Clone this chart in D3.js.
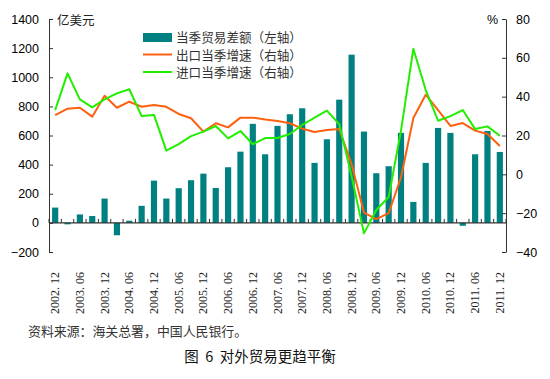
<!DOCTYPE html>
<html><head><meta charset="utf-8">
<script src="https://cdn.jsdelivr.net/npm/d3@7/dist/d3.min.js"></script>
<style>
body{margin:0;background:#fff;}
svg{display:block;}
</style></head>
<body>
<svg id="chart" width="550" height="379"></svg>
<script>
const quarters = ["2002.12","2003.03","2003.06","2003.09","2003.12","2004.03","2004.06","2004.09","2004.12",
"2005.03","2005.06","2005.09","2005.12","2006.03","2006.06","2006.09","2006.12","2007.03","2007.06","2007.09",
"2007.12","2008.03","2008.06","2008.09","2008.12","2009.03","2009.06","2009.09","2009.12","2010.03","2010.06",
"2010.09","2010.12","2011.03","2011.06","2011.09","2011.12"];
const tradeBalance = [105,-10,58,47,167,-85,15,117,290,167,238,293,338,240,382,489,680,471,666,746,787,412,574,846,1155,627,341,389,618,144,412,652,618,-20,471,631,487];
const exportGrowth = [30.5,33.8,34.3,29.7,40.5,34.3,37.4,34.8,35.7,34.8,31.1,28.9,22,26.3,24.2,29.2,29.2,28.2,27.5,26.3,23.5,21.8,22.8,23.3,5.2,-19.7,-23.1,-20,-1.5,29,41,33.1,24.9,26.4,22.5,20.8,14.6];
const importGrowth = [33.1,52,38.6,34.5,38.6,41.7,43.8,30,30.6,12.2,15.6,19.7,22,24.9,18.5,22.3,15.5,18.7,18.7,20.8,25.4,29.2,32.8,25.8,-1,-30.4,-18.4,-11.7,22.5,64.7,43.4,27.6,30,33.1,23.3,24.7,19.9];
const leftTicks = [-200,0,200,400,600,800,1000,1200,1400];
const rightTicks = [-40,-20,0,20,40,60,80];
const legendLabels = ["当季贸易差额（左轴）","出口当季增速（右轴）","进口当季增速（右轴）"];
const leftUnit = "亿美元", rightUnit = "%";
const sourceText = "资料来源：海关总署，中国人民银行。";
const titleText = "图 6 对外贸易更趋平衡";

const svg = d3.select("#chart");
const L = 49, R = 506, T = 19, B = 252;
const cjk = "'Noto Sans CJK SC', sans-serif";
const num = "'Liberation Sans', Arial, sans-serif";
const teal = "#008080", orange = "#FF6010", green = "#22EE00", axisCol = "#333";

const x = d3.scaleBand().domain(quarters).range([L, R]).paddingInner(0.5).paddingOuter(0.25);
const yL = d3.scaleLinear().domain([-200, 1400]).range([B, T]);
const yR = d3.scaleLinear().domain([-40, 80]).range([B, T]);
const cx = q => x(q) + x.bandwidth() / 2;

// bars
svg.append("g").selectAll("rect").data(quarters).join("rect")
  .attr("x", q => x(q))
  .attr("width", x.bandwidth())
  .attr("y", (q, i) => yL(Math.max(0, tradeBalance[i])))
  .attr("height", (q, i) => Math.abs(yL(tradeBalance[i]) - yL(0)))
  .attr("fill", teal);

// bottom axis at zero with inward ticks at band boundaries
const xb = d3.scaleLinear().domain([0, quarters.length]).range([L, R]);
const bounds = d3.range(0, quarters.length + 1);
const gx = svg.append("g").attr("transform", `translate(0,${yL(0)})`);
gx.append("line").attr("x1", L).attr("x2", R).attr("stroke", axisCol).attr("stroke-width", 1.2);
gx.selectAll("line.tk").data(bounds).join("line").attr("class", "tk")
  .attr("x1", d => xb(d)).attr("x2", d => xb(d)).attr("y1", 0).attr("y2", -4)
  .attr("stroke", axisCol).attr("stroke-width", 1);

// left axis
const gl = svg.append("g").attr("transform", `translate(${L},0)`)
  .call(d3.axisLeft(yL).tickValues(leftTicks).tickFormat(d3.format("d")).tickSize(-4).tickPadding(10).tickSizeOuter(0));
gl.select(".domain").attr("stroke", axisCol);
gl.selectAll(".tick line").attr("stroke", axisCol);
gl.selectAll("text").attr("font-family", num).attr("font-size", "12.5px").attr("fill", "#000");

// right axis
const gr = svg.append("g").attr("transform", `translate(${R},0)`)
  .call(d3.axisRight(yR).tickValues(rightTicks).tickFormat(d3.format("d")).tickSize(-4).tickPadding(10).tickSizeOuter(0));
gr.select(".domain").attr("stroke", axisCol);
gr.selectAll(".tick line").attr("stroke", axisCol);
gr.selectAll("text").attr("font-family", num).attr("font-size", "12.5px").attr("fill", "#000");

// lines
const line = d3.line().x(d => cx(d.q)).y(d => yR(d.v));
svg.append("path").datum(quarters.map((q, i) => ({q, v: exportGrowth[i]})))
  .attr("d", line).attr("fill", "none").attr("stroke", orange).attr("stroke-width", 2).attr("stroke-linejoin", "round");
svg.append("path").datum(quarters.map((q, i) => ({q, v: importGrowth[i]})))
  .attr("d", line).attr("fill", "none").attr("stroke", green).attr("stroke-width", 2).attr("stroke-linejoin", "round");

// x labels
svg.append("g").selectAll("text").data(quarters.filter((q, i) => i % 2 === 0)).join("text")
  .attr("transform", q => `translate(${cx(q) + 4},272) rotate(-90)`)
  .attr("text-anchor", "end")
  .attr("font-family", "'Liberation Serif', 'DejaVu Serif', serif")
  .attr("font-size", "12px").attr("fill", "#222")
  .text(q => q.replace(".", ". "));

// units
svg.append("text").attr("x", 57).attr("y", 25).attr("font-family", cjk).attr("font-size", "12.5px").attr("fill", "#222").text(leftUnit);
svg.append("text").attr("x", 498).attr("y", 24).attr("text-anchor", "end").attr("font-family", num).attr("font-size", "12.5px").attr("fill", "#000").text(rightUnit);

// legend
const lg = svg.append("g");
lg.append("rect").attr("x", 143).attr("y", 33).attr("width", 29).attr("height", 9).attr("fill", teal);
lg.append("line").attr("x1", 143).attr("x2", 172).attr("y1", 54.5).attr("y2", 54.5).attr("stroke", orange).attr("stroke-width", 2);
lg.append("line").attr("x1", 143).attr("x2", 172).attr("y1", 72).attr("y2", 72).attr("stroke", green).attr("stroke-width", 2);
lg.selectAll("text").data(legendLabels).join("text")
  .attr("x", 176).attr("y", (d, i) => 37.5 + i * 17.5)
  .attr("dy", "0.36em")
  .attr("font-family", cjk).attr("font-size", "12.6px").attr("fill", "#333")
  .text(d => d);

// source & title
svg.append("text").attr("x", 28).attr("y", 336).attr("font-family", cjk).attr("font-size", "12.9px").attr("fill", "#333").text(sourceText);
svg.append("text").attr("x", 260).attr("y", 362).attr("text-anchor", "middle").attr("font-family", cjk)
  .attr("font-size", "14.5px").attr("fill", "#111").attr("xml:space", "preserve").style("white-space", "pre").text(titleText.replace(/ /g, "  "));
</script>
</body></html>
